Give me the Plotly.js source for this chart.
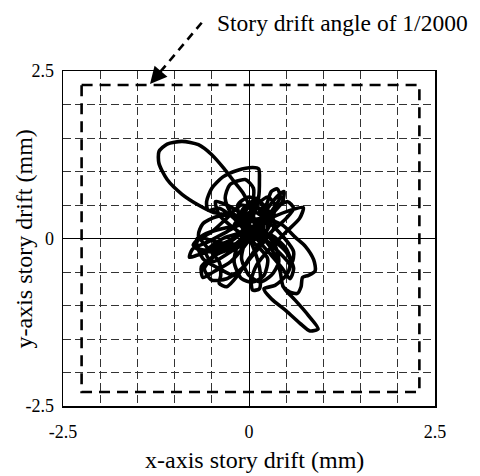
<!DOCTYPE html>
<html>
<head>
<meta charset="utf-8">
<script src="https://cdn.plot.ly/plotly-3.0.1.min.js"></script>
<style>
  html, body { margin: 0; padding: 0; background: #fff; }
  #chart { width: 480px; height: 476px; }
</style>
</head>
<body>
<div id="chart"></div>
<script>
// ---- data (mm) ----
const trajX = [
  0.10, 0.02, -0.08, -0.20, -0.34, -0.50, -0.68, -0.90, -1.10, -1.21, -1.21, -1.10, -0.90, -0.68, -0.50, -0.35, -0.15, 0.05,
  0.20, 0.10, -0.15, -0.45, -0.68, -0.72, -0.50, -0.20, 0.05, 0.18, 0.25, 0.30, 0.38, 0.42, 0.30, 0.12, -0.05, -0.25, -0.48, -0.62,
  -0.64, -0.50, -0.25, 0.00, 0.28, 0.55, 0.73, 0.68, 0.50, 0.28, 0.10, 0.03, 0.05, 0.14, 0.15, 0.08, -0.05, -0.20, -0.40, -0.55,
  -0.57, -0.50, -0.35, -0.15, 0.05, 0.13, 0.14, 0.13, 0.08, -0.02, -0.20, -0.45, -0.70, -0.80, -0.76, -0.55, -0.30, -0.05, 0.22, 0.45, 0.62,
  0.76, 0.87, 0.89, 0.80, 0.72, 0.70, 0.65, 0.55, 0.46, 0.42, 0.35, 0.20, 0.00, -0.22, -0.45, -0.62, -0.68, -0.55, -0.40, -0.38, -0.40,
  -0.30, -0.15, 0.00, 0.15, 0.30, 0.35, 0.25, 0.10, -0.05,
  -0.25, -0.32, -0.26, -0.05, 0.06, 0.05, 0.00, -0.15, -0.40, -0.65, -0.75, -0.62, -0.35, -0.05, 0.20, 0.35, 0.40, 0.30, 0.15, 0.00,
  -0.10, -0.05, 0.10, 0.25, 0.40, 0.47, 0.45, 0.30,
  0.10, -0.10, 0.05, 0.20, 0.00, -0.20, 0.15, 0.25, 0.05, -0.10, 0.10, 0.22, 0.10, -0.25, -0.50, -0.58, -0.35, 0.00, 0.30, 0.50, 0.58,
  0.60, 0.40, 0.15, -0.10, -0.30, -0.50, -0.70, -0.62, -0.40, -0.20, -0.05, 0.10, 0.30, 0.50, 0.60, 0.52, 0.35, 0.15, -0.05, -0.25,
  -0.45, -0.60, -0.50, -0.30, -0.10, 0.05, 0.20, 0.35, 0.20, 0.00, -0.15, -0.10, 0.10, 0.30, 0.45, 0.55, 0.60, 0.50, 0.25, 0.00,
  -0.30, -0.45, -0.40, -0.20, 0.05, 0.25, 0.20, 0.05, -0.10, -0.20, -0.15, 0.05, 0.25, 0.12, -0.05, 0.00, 0.20, 0.40, 0.55,
  0.50, 0.35, 0.20, 0.30, 0.50, 0.70, 0.82, 0.93, 0.80, 0.62, 0.50, 0.45];
const trajY = [
  0.20, 0.45, 0.68, 0.85, 1.05, 1.25, 1.40, 1.45, 1.41, 1.30, 1.12, 0.88, 0.66, 0.50, 0.40, 0.36, 0.33, 0.30,
  0.18, 0.00, -0.08, -0.05, 0.02, -0.12, -0.20, -0.10, 0.10, 0.35, 0.55, 0.70, 0.74, 0.62, 0.40, 0.15, -0.10, -0.35, -0.50, -0.58,
  -0.42, -0.28, -0.05, 0.15, 0.30, 0.42, 0.46, 0.30, 0.10, -0.15, -0.40, -0.62, -0.77, -0.75, -0.50, -0.20, 0.10, 0.30, 0.45, 0.42,
  0.55, 0.75, 0.92, 1.02, 1.06, 1.04, 0.85, 0.62, 0.40, 0.18, 0.00, -0.15, -0.25, -0.28, -0.16, -0.05, 0.10, 0.25, 0.30, 0.20, 0.02,
  -0.12, -0.32, -0.48, -0.55, -0.58, -0.72, -0.82, -0.80, -0.72, -0.50, -0.25, 0.00, 0.20, 0.35, 0.32, 0.22, 0.05, -0.15, -0.35, -0.55, -0.67,
  -0.72, -0.55, -0.30, -0.05, 0.25, 0.50, 0.62, 0.50, 0.30,
  0.40, 0.60, 0.80, 0.88, 0.75, 0.50, 0.25, 0.05, -0.10, -0.18, -0.10, 0.05, 0.15, 0.20, 0.10, -0.10, -0.35, -0.55, -0.65, -0.55,
  -0.30, -0.05, 0.20, 0.45, 0.65, 0.70, 0.55, 0.35,
  0.10, 0.40, 0.55, 0.25, -0.05, 0.20, 0.45, 0.15, 0.00, 0.30, 0.60, 0.40, 0.05, -0.20, -0.35, -0.20, 0.00, 0.10, 0.05, -0.15, -0.35,
  -0.20, 0.10, 0.35, 0.50, 0.30, 0.10, -0.05, -0.30, -0.45, -0.55, -0.40, -0.15, 0.10, 0.30, 0.45, 0.55, 0.45, 0.25, 0.05, -0.15,
  -0.25, -0.45, -0.62, -0.60, -0.45, -0.25, -0.05, 0.20, 0.50, 0.62, 0.50, 0.25, 0.00, -0.25, -0.45, -0.60, -0.45, -0.20, 0.05, 0.30,
  0.50, 0.55, 0.35, 0.15, -0.05, -0.30, -0.55, -0.65, -0.60, -0.35, -0.10, 0.15, 0.35, 0.55, 0.40, 0.15, 0.00, -0.20, -0.40,
  -0.55, -0.70, -0.75, -0.90, -1.08, -1.28, -1.38, -1.35, -1.15, -0.92, -0.78, -0.70];

// dashed rectangle: story drift angle of 1/2000
const limitX = [-2.25, 2.29, 2.29, -2.25, -2.25];
const limitY = [2.29, 2.29, -2.29, -2.29, 2.29];

const tickVals = [-2.5, 0, 2.5];
const tickText = ['-2.5', '0', '2.5'];

const xTitle = 'x-axis story drift (mm)';
const yTitle = 'y-axis story drift (mm)';
const noteText = 'Story drift angle of 1/2000';

const FONT = 'Times New Roman, Liberation Serif, serif';

const traces = [
  {
    x: limitX, y: limitY, type: 'scatter', mode: 'lines',
    line: { color: '#000', width: 2.6, dash: '11px,7px' },
    hoverinfo: 'skip', showlegend: false
  },
  {
    x: trajX, y: trajY, type: 'scatter', mode: 'lines',
    line: { color: '#000', width: 3.6, shape: 'spline', smoothing: 0.7 },
    showlegend: false
  }
];

const axisCommon = {
  range: [-2.5, 2.5],
  tickmode: 'array', tickvals: tickVals, ticktext: tickText,
  showgrid: true, gridcolor: '#333', gridwidth: 1, griddash: '8px,4px',
  minor: { dtick: 0.5, tick0: 0, showgrid: true, gridcolor: '#333', gridwidth: 1, griddash: '8px,4px', ticks: '' },
  zeroline: true, zerolinecolor: '#000', zerolinewidth: 1,
  showline: true, linecolor: '#000', linewidth: 1.5, mirror: true,
  ticks: 'outside', tickcolor: 'rgba(0,0,0,0)',
  tickfont: { family: FONT, size: 18, color: '#000' },
  fixedrange: true
};

const layout = {
  width: 480, height: 476,
  margin: { l: 63, r: 45, t: 71, b: 70 },
  paper_bgcolor: '#fff', plot_bgcolor: '#fff',
  font: { family: FONT, color: '#000' },
  xaxis: Object.assign({}, axisCommon, { ticklen: 9 }),
  yaxis: Object.assign({}, axisCommon, { ticklen: 4 }),
  showlegend: false,
  shapes: [
    { type: 'line', xref: 'paper', yref: 'paper', x0: 0.3728, y0: 1.144, x1: 0.252, y1: 0.985,
      line: { color: '#000', width: 2.6, dash: '8px,6px' } }
  ],
  annotations: [
    { text: noteText, xref: 'paper', yref: 'paper', x: 0.408, y: 1.142, xanchor: 'left', yanchor: 'middle',
      showarrow: false, font: { family: FONT, size: 23.5, color: '#000' } },
    { text: '', xref: 'paper', yref: 'paper', x: 0.2339, y: 0.961, ax: 12, ay: -14,
      showarrow: true, arrowhead: 2, arrowsize: 1.3, arrowwidth: 2.6, arrowcolor: '#000', standoff: 0 },
    { text: xTitle, xref: 'paper', yref: 'paper', x: 0.515, y: -0.161, xanchor: 'center', yanchor: 'middle',
      showarrow: false, font: { family: FONT, size: 24, color: '#000' } },
    { text: yTitle, xref: 'paper', yref: 'paper', x: -0.105, y: 0.5, xanchor: 'center', yanchor: 'middle',
      textangle: -90, showarrow: false, font: { family: FONT, size: 24, color: '#000' } }
  ]
};

Plotly.newPlot('chart', traces, layout, { displayModeBar: false, staticPlot: true });
</script>
</body>
</html>
